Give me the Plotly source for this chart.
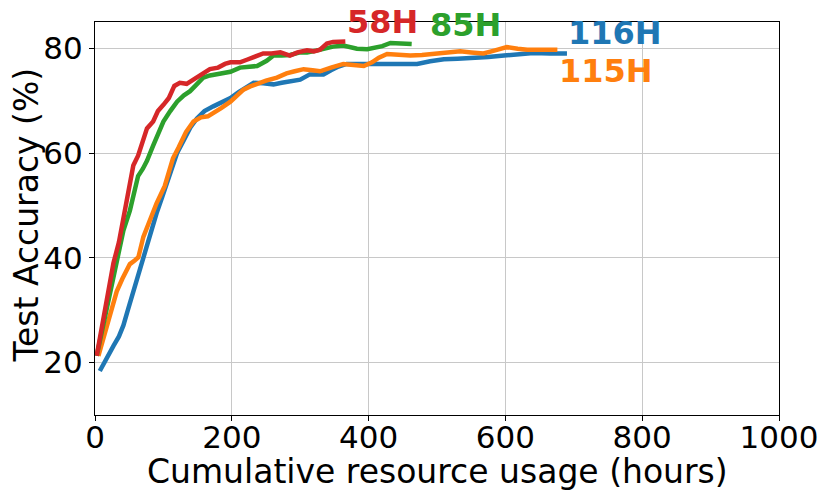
"""Test accuracy vs. cumulative resource usage for four training runs."""

import plotly.graph_objects as go

BLUE = "#1f77b4"
ORANGE = "#ff7f0e"
GREEN = "#2ca02c"
RED = "#d62728"

# 116H run
blue_hours = [7, 15, 27, 35, 41.5, 48, 56, 63, 70.7, 80, 90, 98, 108, 120, 130, 140, 149, 160,
              173, 185, 198, 210, 220, 232, 246, 261, 273, 285, 300, 314, 324, 334, 345, 356,
              368, 383, 398, 412, 427, 440, 455, 471, 490, 510, 530, 554, 575, 598, 620, 641,
              665, 690]
blue_acc = [18.4, 20.5, 23.2, 25, 27.1, 30, 33.6, 37, 40.1, 44, 48.5, 51.5, 55.5, 60, 62.5, 65,
            66.6, 68, 68.9, 69.6, 70.5, 71.6, 72.5, 73.4, 73.3, 73.1, 73.4, 73.7, 74, 75, 75, 75,
            75.8, 76.5, 77, 77, 77, 77, 77, 77.2, 77.1, 77, 77.5, 77.9, 78, 78.1, 78.3, 78.6,
            78.9, 79.1, 79, 79]

# 115H run
orange_hours = [5, 11, 17, 25, 31.8, 40, 51, 58, 63.4, 70.7, 80, 90, 102, 114, 122, 133, 144,
                155, 165, 173, 185, 198, 208, 217, 227, 237, 250, 266, 280, 292, 305, 318, 329,
                345, 363, 378, 393, 405, 415, 427, 440, 452, 461, 478, 495, 515, 534, 550, 568,
                585, 602, 618, 632, 655, 676]
orange_acc = [21.3, 24, 26.5, 30, 33.6, 36, 38.8, 39.5, 40.1, 44, 47, 50.4, 53.7, 59, 61, 64, 66,
              66.8, 67, 67.6, 68.6, 69.8, 71, 72.1, 72.7, 73.2, 73.8, 74.4, 75.2, 75.6, 76, 75.8,
              75.6, 76.3, 77, 76.8, 76.6, 77.3, 78.2, 78.9, 78.8, 78.5, 78.6, 78.7, 78.9, 79.2,
              79.4, 79.2, 79, 79.6, 80.2, 79.9, 79.7, 79.7, 79.7]

# 85H run
green_hours = [2.5, 10, 17, 24.4, 33, 41.5, 51, 56, 63, 70, 76, 85, 92, 100, 110, 120, 130, 139,
               148, 158.5, 168, 178, 188, 198, 212, 224, 237, 251, 261, 273, 285, 300, 310, 322,
               334, 348, 363, 373, 383, 398, 410, 420, 432, 445, 463]
green_acc = [21.3, 26, 30, 35, 40, 45.2, 49, 52, 55.6, 57, 58.5, 61.4, 63.5, 66, 68, 69.8, 71,
             71.8, 73, 74.4, 74.8, 75, 75.2, 75.5, 76.3, 76.4, 76.6, 77.6, 78.6, 78.6, 78.7, 79.2,
             79.2, 79.5, 79.9, 80.3, 80.5, 80.1, 79.9, 79.8, 80.1, 80.4, 81, 80.9, 80.8]

# 58H run
red_hours = [2.5, 10, 18, 27, 35, 41, 48, 56, 63, 70, 76, 85, 92, 100, 108, 116, 124, 134, 144,
             156, 168, 180, 190, 198, 212, 222, 234, 246, 258, 271, 285, 296, 310, 320, 329, 339,
             348, 356, 366]
red_acc = [21.3, 27, 33, 39, 43, 47, 52, 57.6, 59.5, 62, 64.7, 66, 68, 69.2, 70.5, 72.8, 73.4,
           73.2, 74, 75, 76, 76.3, 77, 77.3, 77.3, 77.8, 78.3, 79, 79, 79.2, 78.6, 79.2, 79.6,
           79.4, 79.7, 80.9, 81.2, 81.3, 81.3]

# end-of-run labels: text, x, y (centre), colour
labels = [("58H", 366, 85.0, RED), ("85H", 487, 84.4, GREEN),
          ("116H", 688, 82.9, BLUE), ("115H", 676, 75.7, ORANGE)]

FONT = "DejaVu Sans"

fig = go.Figure()
for hours, acc, color in (
    (blue_hours, blue_acc, BLUE),
    (orange_hours, orange_acc, ORANGE),
    (green_hours, green_acc, GREEN),
    (red_hours, red_acc, RED),
):
    fig.add_trace(go.Scatter(x=hours, y=acc, mode="lines",
                             line=dict(color=color, width=4.5), showlegend=False))

for text, x, y, color in labels:
    fig.add_annotation(x=x, y=y, text=f"<b>{text}</b>", showarrow=False,
                       xanchor="left", yanchor="middle",
                       font=dict(family=FONT, size=32, color=color))

# axis titles as paper annotations so they sit exactly where the original has them
fig.add_annotation(x=0.5, y=-0.088, xref="paper", yref="paper",
                   text="Cumulative resource usage (hours)", showarrow=False,
                   xanchor="center", yanchor="top", font=dict(family=FONT, size=33))
fig.add_annotation(x=-0.1, y=0.509, xref="paper", yref="paper",
                   text="Test Accuracy (%)", showarrow=False, textangle=-90,
                   xanchor="center", yanchor="middle", font=dict(family=FONT, size=33))

# the page body adds an 8px offset, so the figure is 8px smaller than the window
fig.update_layout(
    width=822, height=485,
    margin=dict(l=87, r=51, t=14, b=78),
    paper_bgcolor="white", plot_bgcolor="white",
    font=dict(family=FONT, size=31, color="black"),
)
axis_style = dict(showline=True, mirror=True, linecolor="black", linewidth=1,
                  ticks="outside", ticklen=5, tickcolor="black",
                  showgrid=True, gridcolor="#c8c8c8", gridwidth=1, zeroline=False,
                  tickfont=dict(family=FONT, size=31), automargin=False)
fig.update_xaxes(range=[0, 1000], tickvals=[0, 200, 400, 600, 800, 1000],
                 ticklabelstandoff=-10, **axis_style)
fig.update_yaxes(range=[10, 85], tickvals=[20, 40, 60, 80], **axis_style)

fig.write_html("out.html")
